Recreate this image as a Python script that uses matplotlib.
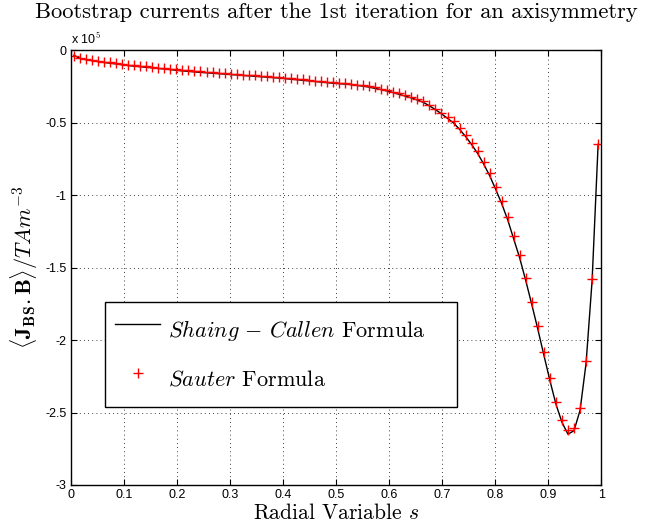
import numpy as np
import matplotlib
matplotlib.use("Agg")
import matplotlib.pyplot as plt

plt.rcParams['mathtext.fontset'] = 'cm'
plt.rcParams['axes.unicode_minus'] = False

# radial grid (half grid points, 88 surfaces)
n_surf = 88
s_grid = (np.arange(n_surf) + 0.5) / n_surf

# <J_BS.B> in units of 1e5, Sauter formula (red markers)
j_sauter = [
    -0.041, -0.053, -0.061, -0.068, -0.074, -0.080, -0.085, -0.090, -0.096, -0.101,
    -0.105, -0.109, -0.113, -0.117, -0.121, -0.125, -0.129, -0.134, -0.138, -0.141,
    -0.145, -0.148, -0.151, -0.154, -0.157, -0.160, -0.163, -0.166, -0.169, -0.172,
    -0.175, -0.178, -0.181, -0.184, -0.187, -0.191, -0.195, -0.199, -0.203, -0.207,
    -0.211, -0.215, -0.219, -0.223, -0.226, -0.229, -0.233, -0.238, -0.243, -0.249,
    -0.258, -0.266, -0.276, -0.287, -0.299, -0.311, -0.323, -0.338, -0.355, -0.378,
    -0.404, -0.432, -0.462, -0.492, -0.535, -0.583, -0.638, -0.698, -0.770, -0.850,
    -0.943, -1.040, -1.150, -1.285, -1.415, -1.570, -1.735, -1.905, -2.085, -2.260,
    -2.425, -2.550, -2.618, -2.607, -2.470, -2.145, -1.580, -0.648,
]

# Shaing-Callen formula (black line)
j_shaing = [
    -0.036, -0.058, -0.067, -0.074, -0.080, -0.086, -0.091, -0.096, -0.102, -0.107,
    -0.111, -0.115, -0.119, -0.123, -0.127, -0.131, -0.135, -0.140, -0.144, -0.147,
    -0.151, -0.154, -0.157, -0.160, -0.163, -0.166, -0.169, -0.172, -0.175, -0.178,
    -0.181, -0.184, -0.187, -0.190, -0.193, -0.197, -0.201, -0.205, -0.209, -0.213,
    -0.217, -0.221, -0.225, -0.229, -0.232, -0.235, -0.239, -0.244, -0.249, -0.256,
    -0.265, -0.273, -0.283, -0.294, -0.306, -0.318, -0.330, -0.345, -0.361, -0.385,
    -0.411, -0.440, -0.471, -0.503, -0.547, -0.596, -0.652, -0.713, -0.786, -0.867,
    -0.961, -1.060, -1.172, -1.305, -1.437, -1.592, -1.757, -1.927, -2.105, -2.280,
    -2.443, -2.568, -2.650, -2.625, -2.485, -2.160, -1.590, -0.650,
]

y_ticks = [0, -0.5, -1, -1.5, -2, -2.5, -3]
y_tick_labels = ['0', '-0.5', '-1', '-1.5', '-2', '-2.5', '-3']
x_ticks = [0, 0.1, 0.2, 0.3, 0.4, 0.5, 0.6, 0.7, 0.8, 0.9, 1]
x_tick_labels = ['0', '0.1', '0.2', '0.3', '0.4', '0.5', '0.6', '0.7', '0.8', '0.9', '1']

fig = plt.figure(figsize=(6.45, 5.27), dpi=100)
ax = fig.add_axes([0.110, 0.0797, 0.822, 0.8254])

scale = 1e5
ax.plot(s_grid, np.array(j_shaing) * scale, color='black', lw=1.0,
        label=r'$Shaing\,-\,Callen$ Formula    ')
ax.plot(s_grid, np.array(j_sauter) * scale, ls='none', marker='+', color='red',
        ms=7, mew=1.0, label=r'$Sauter$ Formula')

ax.set_xlim(0, 1)
ax.set_ylim(-3 * scale, 0)
ax.set_xticks(x_ticks)
ax.set_xticklabels(x_tick_labels)
ax.set_yticks([v * scale for v in y_ticks])
ax.set_yticklabels(y_tick_labels)
for lab in ax.get_xticklabels() + ax.get_yticklabels():
    lab.set_fontfamily('Liberation Sans')
    lab.set_fontsize(9)

ax.tick_params(direction='in', top=True, right=True, length=4, width=0.8, pad=3)
ax.grid(True, color='black', ls=(0, (1, 4)), lw=0.6)
for sp in ax.spines.values():
    sp.set_linewidth(1.0)

ax.text(0.0, 1.008, r'x 10$^5$', transform=ax.transAxes, fontsize=9,
        family='Liberation Sans', ha='left', va='bottom')

ax.set_title('Bootstrap currents after the 1st iteration for an axisymmetry',
             fontfamily='cmr10', fontsize=16.2, pad=23)
ax.set_xlabel(r'Radial Variable $s$', fontfamily='cmr10', fontsize=15.5, labelpad=1)
ax.set_ylabel(r'$\langle \mathbf{J}_{\mathbf{BS}}.\mathbf{B}\rangle/TAm^{-3}$',
              fontsize=16, labelpad=4)

leg = ax.legend(loc='upper left', bbox_to_anchor=(0.064, 0.421), fancybox=False,
                edgecolor='black', framealpha=1, borderpad=0.45, labelspacing=0.55,
                handlelength=2.05, handleheight=2.15, handletextpad=0.32,
                borderaxespad=0, prop={'family': 'cmr10', 'size': 16})
leg.get_frame().set_linewidth(1.0)

fig.savefig('out.png', dpi=100)
